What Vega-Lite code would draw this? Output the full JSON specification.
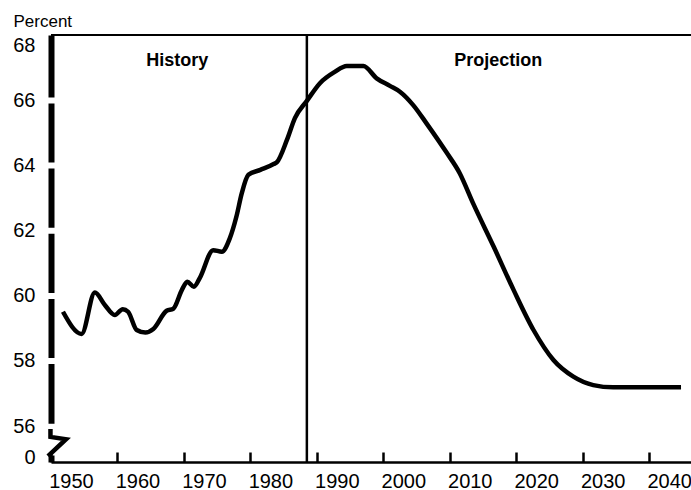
{
  "$schema": "https://vega.github.io/schema/vega-lite/v6.json",
  "width": 640,
  "height": 427,
  "autosize": {"type": "none"},
  "padding": {"left": 51, "top": 35, "right": 0, "bottom": 28},
  "config": {"view": {"stroke": null}, "font": "Liberation Sans", "background": "white"},
  "datasets": {
    "series": [
      {"year": 1951.8, "value": 59.51},
      {"year": 1954.6, "value": 58.83},
      {"year": 1956.6, "value": 60.10},
      {"year": 1958.1, "value": 59.72},
      {"year": 1959.6, "value": 59.41},
      {"year": 1960.8, "value": 59.59},
      {"year": 1961.6, "value": 59.51},
      {"year": 1962.9, "value": 58.95},
      {"year": 1964.2, "value": 58.87},
      {"year": 1965.4, "value": 58.98},
      {"year": 1967.4, "value": 59.54},
      {"year": 1968.4, "value": 59.60},
      {"year": 1969.7, "value": 60.18},
      {"year": 1970.5, "value": 60.43},
      {"year": 1971.5, "value": 60.28},
      {"year": 1972.4, "value": 60.55},
      {"year": 1974.4, "value": 61.40},
      {"year": 1975.7, "value": 61.35},
      {"year": 1976.9, "value": 61.76},
      {"year": 1977.9, "value": 62.43},
      {"year": 1978.7, "value": 63.14},
      {"year": 1979.7, "value": 63.71},
      {"year": 1981.5, "value": 63.86},
      {"year": 1983.5, "value": 64.04},
      {"year": 1984.0, "value": 64.10},
      {"year": 1985.5, "value": 64.78},
      {"year": 1986.7, "value": 65.45},
      {"year": 1988.5, "value": 65.98},
      {"year": 1990.5, "value": 66.53},
      {"year": 1992.7, "value": 66.87},
      {"year": 1994.5, "value": 67.05},
      {"year": 1997.0, "value": 67.05},
      {"year": 1999.0, "value": 66.67},
      {"year": 2001.0, "value": 66.44},
      {"year": 2002.5, "value": 66.26},
      {"year": 2004.5, "value": 65.85},
      {"year": 2006.5, "value": 65.29},
      {"year": 2009.5, "value": 64.40},
      {"year": 2011.5, "value": 63.76},
      {"year": 2013.5, "value": 62.84},
      {"year": 2016.6, "value": 61.51},
      {"year": 2019.6, "value": 60.18},
      {"year": 2022.6, "value": 58.95},
      {"year": 2025.6, "value": 58.03},
      {"year": 2028.6, "value": 57.52},
      {"year": 2031.6, "value": 57.26},
      {"year": 2034.6, "value": 57.19},
      {"year": 2038.6, "value": 57.19},
      {"year": 2044.8, "value": 57.19}
    ],
    "labels": [
      {"year": 1969, "value": 67.05, "text": "History"},
      {"year": 2017.3, "value": 67.05, "text": "Projection"}
    ],
    "brk": [
      {"i": 1, "year": 1949.92, "value": 55.91},
      {"i": 2, "year": 1949.92, "value": 55.67},
      {"i": 3, "year": 1952.26, "value": 55.6},
      {"i": 4, "year": 1949.55, "value": 55.08}
    ]
  },
  "data": {"name": "series"},
  "layer": [
    {
      "mark": {"type": "line", "color": "black", "strokeWidth": 4.5, "interpolate": "monotone"},
      "encoding": {
        "x": {
          "field": "year", "type": "quantitative",
          "scale": {"domain": [1950, 2046.3], "nice": false, "zero": false},
          "axis": {
            "values": [1950, 1960, 1970, 1980, 1990, 2000, 2010, 2020, 2030, 2040],
            "format": "d", "title": null, "grid": false,
            "domainColor": "black", "domainWidth": 2.5,
            "tickColor": "black", "tickWidth": 2.5, "tickSize": -10,
            "labelOffset": 20, "labelPadding": 19, "labelFontSize": 20,
            "labelColor": "black", "labelFlush": false, "labelOverlap": false
          }
        },
        "y": {
          "field": "value", "type": "quantitative",
          "scale": {"domain": [54.9, 68], "nice": false, "zero": false},
          "axis": {
            "values": [55.03, 56, 58, 60, 62, 64, 66, 68],
            "format": "d",
            "labelExpr": "datum.value < 55.5 ? '0' : datum.label",
            "title": "Percent", "titleAngle": 0, "titleAlign": "left",
            "titleBaseline": "alphabetic", "titleX": -38, "titleY": -9,
            "titleFontSize": 17, "titleFontWeight": "normal", "titleColor": "black",
            "grid": false, "ticks": false, "tickSize": 0,
            "domainWidth": 6, "domainColor": "black",
            "domainDash": [7, 31.7, 59.7, 6, 59.2, 6, 59.2, 6, 59.2, 6, 59, 6, 62, 10],
            "labelFontSize": 20, "labelPadding": 16, "labelColor": "black",
            "labelBaseline": {"condition": {"test": "datum.value >= 68", "value": "top"}, "value": "middle"},
            "labelFlush": false, "labelOverlap": false
          }
        }
      }
    },
    {
      "data": {"values": [{}]},
      "mark": {"type": "rule", "color": "black", "strokeWidth": 2},
      "encoding": {"y": {"datum": 68}}
    },
    {
      "data": {"values": [{}]},
      "mark": {"type": "rule", "color": "black", "strokeWidth": 2.5},
      "encoding": {"x": {"datum": 1988.5}}
    },
    {
      "data": {"name": "labels"},
      "mark": {"type": "text", "fontSize": 18, "fontWeight": "bold", "color": "black", "align": "center", "baseline": "alphabetic"},
      "encoding": {
        "x": {"field": "year", "type": "quantitative"},
        "y": {"field": "value", "type": "quantitative"},
        "text": {"field": "text"}
      }
    },
    {
      "data": {"name": "brk"},
      "mark": {"type": "line", "color": "black", "strokeWidth": 4.5},
      "encoding": {
        "x": {"field": "year", "type": "quantitative"},
        "y": {"field": "value", "type": "quantitative"},
        "order": {"field": "i"}
      }
    }
  ]
}
